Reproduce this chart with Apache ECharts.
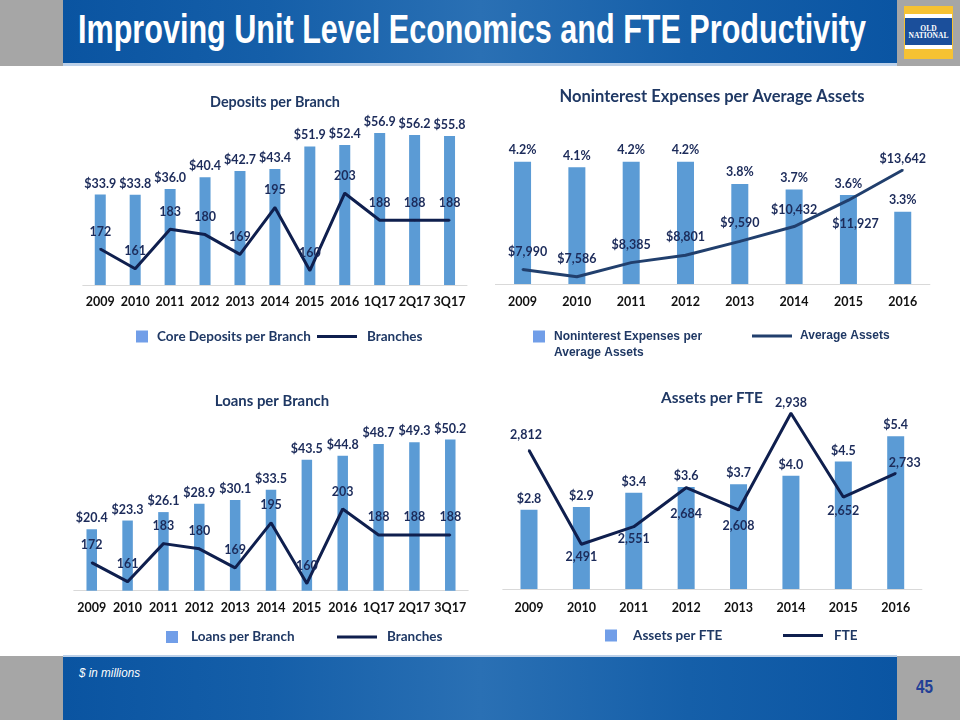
<!DOCTYPE html>
<html>
<head>
<meta charset="utf-8">
<script src="https://cdn.jsdelivr.net/npm/echarts@6/dist/echarts.min.js"></script>
<style>
html,body{margin:0;padding:0;width:960px;height:720px;overflow:hidden;background:#ffffff;}
.abs{position:absolute;}
.gray{background:#a6a6a6;}
.blue{background:linear-gradient(90deg,#0a54a1 0%,#155fa9 25%,#2a70b4 50%,#155fa9 75%,#0a55a3 100%);}
.fit{white-space:nowrap;transform-origin:0 50%;}
#chart{position:absolute;left:0;top:0;width:960px;height:720px;}
</style>
</head>
<body>
<div class="abs gray" style="left:0;top:0;width:960px;height:66px;"></div>
<div class="abs blue" style="left:63px;top:0;width:834px;height:63px;"></div>
<div class="abs" style="left:63px;top:63px;width:834px;height:3px;background:#bcd0e8;"></div>
<div id="title" class="abs fit" style="left:78px;top:9px;font:bold 40px 'Liberation Sans',Arial,sans-serif;line-height:40px;color:#ffffff;">Improving Unit Level Economics and FTE Productivity</div>
<div class="abs" style="left:904px;top:6px;width:49px;height:53px;background:#f6c233;"></div>
<div class="abs" style="left:905px;top:14px;width:47px;height:4px;background:#ffffff;"></div>
<div class="abs" style="left:905px;top:18px;width:47px;height:27px;background:#1b4f9b;"></div>
<div class="abs" style="left:905px;top:45px;width:47px;height:4px;background:#ffffff;"></div>
<div class="abs" style="left:905px;top:25px;width:47px;text-align:center;font:bold 7.5px 'Liberation Serif',serif;line-height:7px;color:#ffffff;">OLD</div>
<div class="abs" style="left:905px;top:32px;width:47px;text-align:center;font:bold 7.5px 'Liberation Serif',serif;line-height:7px;color:#ffffff;">NATIONAL</div>

<div class="abs gray" style="left:0;top:656px;width:960px;height:64px;"></div>
<div class="abs blue" style="left:63px;top:657px;width:834px;height:63px;"></div>
<div class="abs" style="left:63px;top:655px;width:834px;height:2px;background:#bcd0e8;"></div>
<div id="foot" class="abs fit" style="left:79px;top:667px;font:italic 12px 'Liberation Sans',Arial,sans-serif;line-height:12px;color:#ffffff;">$ in millions</div>
<div id="pnum" class="abs fit" style="left:916px;top:678px;font:bold 18px 'Liberation Sans',Arial,sans-serif;line-height:18px;color:#223f96;">45</div>

<div id="chart"></div>
<script>
// ---------- data ----------
const branchCategories = ['2009','2010','2011','2012','2013','2014','2015','2016','1Q17','2Q17','3Q17'];
const coreDepositsPerBranch = [33.9,33.8,36.0,40.4,42.7,43.4,51.9,52.4,56.9,56.2,55.8];
const branches = [172,161,183,180,169,195,160,203,188,188,188];
const loansPerBranch = [20.4,23.3,26.1,28.9,30.1,33.5,43.5,44.8,48.7,49.3,50.2];
const yearCategories = ['2009','2010','2011','2012','2013','2014','2015','2016'];
const nonintExpPerAvgAssets = [4.2,4.1,4.2,4.2,3.8,3.7,3.6,3.3];
const averageAssets = [7990,7586,8385,8801,9590,10432,11927,13642];
const assetsPerFte = [2.8,2.9,3.4,3.6,3.7,4.0,4.5,5.4];
const fte = [2812,2491,2551,2684,2608,2938,2652,2733];

// ---------- header / footer text fitting ----------
function fitText(id, targetW){
  const el = document.getElementById(id);
  const cs = getComputedStyle(el);
  const ctx = document.createElement('canvas').getContext('2d');
  ctx.font = cs.fontStyle + ' ' + cs.fontWeight + ' ' + cs.fontSize + ' ' + cs.fontFamily;
  const w = ctx.measureText(el.textContent).width;
  el.style.transform = 'scaleX(' + (targetW / w) + ')';
}
fitText('title', 788);
fitText('foot', 61);
fitText('pnum', 17);

// ---------- styles ----------
const BAR = '#5b9bd5';
const LEG_BAR = '#719ee8';
const LINE = '#0f1f4e';
const LINE2 = '#213f6d';
const LBL = '#1c2b5a';
const FONT = 'Lato';
const lbl = {color: LBL, fontFamily: FONT, fontWeight: 'bold', fontSize: 12.5};
const money1 = p => '$' + p.value.toFixed(1);
const commas = p => p.value.toLocaleString('en-US');

function xAxisFor(grid, cats, margin){
  return {type:'category', gridIndex:grid, data:cats,
    axisTick:{show:false},
    axisLine:{lineStyle:{color:'#d9d9d9', width:1}},
    axisLabel:{color:'#111111', fontFamily:FONT, fontWeight:'bold', fontSize:12.5, margin:margin, interval:0}};
}
function yAxisFor(grid, min, max){
  return {type:'value', gridIndex:grid, min:min, max:max, show:false, splitLine:{show:false}};
}
function placed(values, places){
  return values.map((v,i)=>({value:v, label:{position:places[i][0], distance:places[i][1], offset:places[i][2]||[0,0]}}));
}
const avgAssetsLabelPlaces = [['top',10.5,[5,0]],['top',10.5],['top',10.5],['top',10.5],['top',11],['top',9.5],['bottom',16,[7,0]],['top',3.5]];
const fteLabelPlaces = [['top',7.5,[-3,0]],['bottom',5.5],['bottom',4.5],['bottom',18.5],['bottom',8.5],['top',2.5],['bottom',6.5],['top',2.5,[9,0]]];

function lineSeries(name, xi, yi, data, color, labelFmt){
  return {type:'line', name:name, xAxisIndex:xi, yAxisIndex:yi, data:data, z:5,
    symbol:'circle', symbolSize:2, itemStyle:{color:color}, lineStyle:{color:color, width:3},
    label:{show:true, position:'top', distance:10, formatter:labelFmt, ...lbl}, clip:false};
}
function barSeries(name, xi, yi, data, width, labelFmt){
  return {type:'bar', name:name, xAxisIndex:xi, yAxisIndex:yi, data:data, barWidth:width,
    itemStyle:{color:BAR}, label:{show:true, position:'top', distance:4.5, formatter:labelFmt, ...lbl}};
}
const legText = {color:'#1f3864', fontFamily:FONT, fontWeight:'bold', fontSize:13.5};
function barLegend(name, left, top, textStyle){
  return {data:[{name:name, itemStyle:{color:LEG_BAR}}], left:left, top:top, padding:0, icon:'rect',
    itemWidth:12, itemHeight:12, itemGap:0, textStyle:textStyle||legText, selectedMode:false};
}
function lineLegend(name, left, top, textStyle){
  return {data:[name], left:left, top:top, padding:0, icon:'rect',
    itemWidth:40, itemHeight:3, textStyle:textStyle||legText, selectedMode:false};
}
const titleFont = (s)=>({fill:'#1f3864', font:'bold ' + s + 'px ' + FONT, textAlign:'center', textVerticalAlign:'middle'});

const chart = echarts.init(document.getElementById('chart'), null, {renderer:'canvas'});
chart.setOption({
  backgroundColor:'transparent',
  animation:false,
  graphic:[
    {type:'text', x:275, y:102, style:{text:'Deposits per Branch', ...titleFont(14.4)}},
    {type:'text', x:712, y:97, style:{text:'Noninterest Expenses per Average Assets', ...titleFont(16.5)}},
    {type:'text', x:272, y:401, style:{text:'Loans per Branch', ...titleFont(14.9)}},
    {type:'text', x:712, y:398, style:{text:'Assets per FTE', ...titleFont(15.4)}}
  ],
  grid:[
    {left:82.8, top:124.8, width:384.2, height:160.2, outerBoundsMode:'none'},
    {left:495.4, top:128.3, width:434.5, height:155.7, outerBoundsMode:'none'},
    {left:73.8, top:410, width:394.4, height:180.7, outerBoundsMode:'none'},
    {left:502.8, top:405, width:419.1, height:184, outerBoundsMode:'none'}
  ],
  xAxis:[
    xAxisFor(0, branchCategories, 10),
    xAxisFor(1, yearCategories, 11),
    xAxisFor(2, branchCategories, 11),
    xAxisFor(3, yearCategories, 12)
  ],
  yAxis:[
    yAxisFor(0, 0, 60), yAxisFor(0, 152, 241),
    yAxisFor(1, 2.0, 4.8), yAxisFor(1, 7172, 16008),
    yAxisFor(2, 0, 60), yAxisFor(2, 155.8, 260.2),
    yAxisFor(3, 0, 6.5), yAxisFor(3, 2338.5, 2966)
  ],
  legend:[
    barLegend('Core Deposits per Branch', 136, 329.5, {...legText, padding:[0,0,0,4]}),
    lineLegend('Branches', 317, 329.5, {...legText, padding:[0,0,0,5]}),
    {data:[{name:'Noninterest Expenses per Average Assets', itemStyle:{color:LEG_BAR}}], left:533, top:312.5, padding:0, icon:'rect',
      itemWidth:12, itemHeight:12, selectedMode:false,
      formatter:()=> '\nNoninterest Expenses per\nAverage Assets',
      textStyle:{color:'#1f3864', fontFamily:'Liberation Sans', fontWeight:'bold', fontSize:12, lineHeight:16, padding:[0,0,0,4]}},
    lineLegend('Average Assets', 752, 330, {color:'#1f3864', fontFamily:'Liberation Sans', fontWeight:'bold', fontSize:12, padding:[0,0,0,3]}),
    barLegend('Loans per Branch', 166, 630, {...legText, padding:[0,0,0,8]}),
    lineLegend('Branches ', 337, 630, {...legText, padding:[0,0,0,5]}),
    barLegend('Assets per FTE', 605, 628.5, {...legText, padding:[0,0,0,11]}),
    lineLegend('FTE', 783, 628.5, {...legText, padding:[0,0,0,6]})
  ],
  series:[
    barSeries('Core Deposits per Branch', 0, 0, coreDepositsPerBranch, 11, money1),
    lineSeries('Branches', 0, 1, branches, LINE, p=>String(p.value)),
    {...barSeries('Noninterest Expenses per Average Assets', 1, 2, nonintExpPerAvgAssets, 17, null), label:{show:true, position:'top', distance:5, formatter:p=>p.value.toFixed(1)+'%', ...lbl}},
    lineSeries('Average Assets', 1, 3, placed(averageAssets, avgAssetsLabelPlaces), LINE2, p=>'$'+p.value.toLocaleString('en-US')),
    barSeries('Loans per Branch', 2, 4, loansPerBranch, 10.5, money1),
    lineSeries('Branches ', 2, 5, branches, LINE, p=>String(p.value)),
    barSeries('Assets per FTE', 3, 6, assetsPerFte, 17, money1),
    lineSeries('FTE', 3, 7, placed(fte, fteLabelPlaces), LINE, commas)
  ]
});
</script>
</body>
</html>
